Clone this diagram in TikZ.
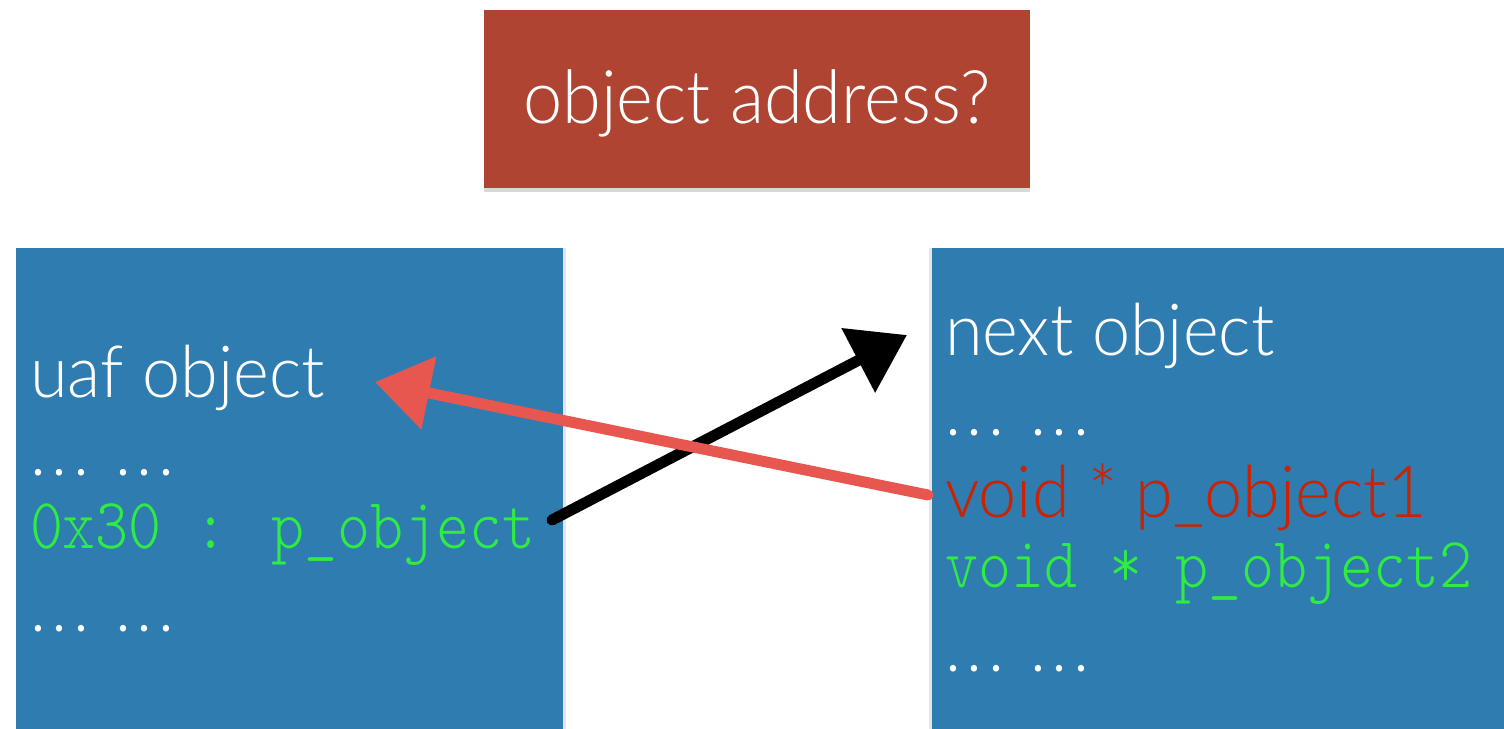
\documentclass[tikz,border=0pt]{standalone}
\usepackage{fontspec}
\usetikzlibrary{arrows.meta,shadows,decorations.pathmorphing}
\IfFontExistsTF{Lato Light}{\setmainfont{Lato Light}[FakeStretch=0.95]}{\setmainfont{Lato}[FakeStretch=0.95]}
\IfFontExistsTF{lmmonolt10-regular.otf}{\newfontfamily\codefont{lmmonolt10-regular.otf}[FakeStretch=0.873]}{\newfontfamily\codefont{Liberation Mono}}
\newcommand{\dotcell}{\makebox[21.7pt][l]{.}}
\newcommand{\dotrow}{\dotcell\dotcell\makebox[41.7pt][l]{.}\dotcell\dotcell.}
\definecolor{boxred}{RGB}{176,68,50}
\definecolor{boxblue}{RGB}{46,124,176}
\definecolor{codegreen}{RGB}{46,236,66}
\definecolor{textred}{RGB}{204,34,0}
\definecolor{arrowred}{RGB}{232,87,79}
\tikzset{
  panel/.style={inner sep=0pt, outer sep=0pt, anchor=north west},
  label/.style={inner sep=0pt, outer sep=0pt, anchor=base west, text=white, font=\fontsize{72}{80}\selectfont},
  code/.style={label, text=codegreen, font=\codefont\fontsize{72}{80}\selectfont},
  sketch/.style={line width=11pt, line cap=round},
  rough/.style={line width=2.5pt, line cap=round, line join=round, decorate,
    decoration={random steps, segment length=2.5pt, amplitude=3.5pt}},
}
\begin{document}
\begin{tikzpicture}[x=1pt,y=-1pt]
\pgfmathsetseed{7}
\useasboundingbox (0,0) rectangle (1504,728);
\fill[white] (0,0) rectangle (1504,728);
% boxes
\node[panel, fill=boxred, minimum width=546pt, minimum height=178pt,
      drop shadow={shadow xshift=0pt, shadow yshift=-4pt, opacity=0.3}] (titlebox) at (484,10) {};
\node[panel, fill=boxblue, minimum width=547pt, minimum height=500pt,
      drop shadow={shadow xshift=3pt, shadow yshift=0pt, opacity=0.2}] (uafbox) at (16,248) {};
\node[panel, fill=boxblue, minimum width=580pt, minimum height=500pt,
      drop shadow={shadow xshift=-3pt, shadow yshift=0pt, opacity=0.2}] (nextbox) at (932,248) {};
% title
\node[label, anchor=base, font=\fontsize{74}{80}\selectfont] (title) at (757,123) {object address?};
% left box texts
\node[label] (uaf) at (30,397) {uaf object};
\node[label] (ldots1) at (30,475) {\dotrow};
\node[code] (pobj) at (30,548) {0x30 : p\_object};
\node[label] (ldots2) at (30,631) {\dotrow};
% right box texts
\node[label] (next) at (945,355) {next object};
\node[label] (rdots1) at (945,435) {\dotrow};
\node[label, text=textred] (pobj1) at (945,517) {void * p\_object1};
\node[code] (pobj2) at (945,587) {void * p\_object2};
\node[label] (rdots2) at (945,671) {\dotrow};
% arrows
\coordinate (btail) at (552,520);
\coordinate (bhead) at (907,335);
\coordinate (bbase) at (860,360);
\coordinate (rtail) at (928,495);
\coordinate (rhead) at (375,382);
\coordinate (rbase) at (427,392);
\draw[sketch, black, -{Triangle[length=55pt,width=70pt]}] (btail) -- (bhead);
\draw[rough, black] (btail) -- (bbase);
\draw[sketch, arrowred, -{Triangle[length=55pt,width=72pt]}] (rtail) -- (rhead);
\draw[rough, arrowred] (rtail) -- (rbase);
\end{tikzpicture}
\end{document}
